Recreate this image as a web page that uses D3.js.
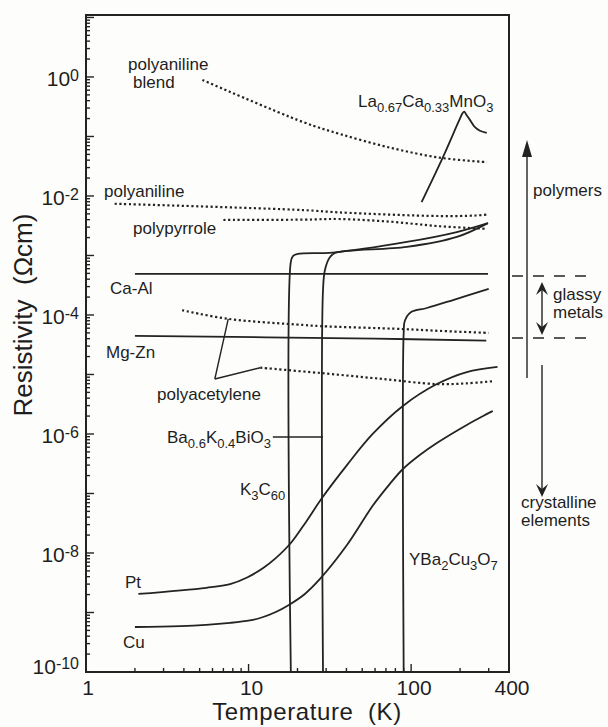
<!DOCTYPE html>
<html>
<head>
<meta charset="utf-8">
<script src="https://cdn.jsdelivr.net/npm/d3@7"></script>
<style>
  html, body { margin: 0; padding: 0; background: #fdfdfb; }
  svg { display: block; font-family: "Liberation Sans", Arial, Helvetica, sans-serif; }
</style>
</head>
<body>
<div id="chart"></div>
<script>
// values: [temperature (K), resistivity (ohm cm)]
const pt = [[2.1, 2.05e-9], [5.5, 2.6e-9], [7.7, 3.0e-9], [9.8, 3.87e-9], [12.3, 5.6e-9], [14.7, 8.2e-9],
  [18.2, 1.47e-8], [22.5, 3.3e-8], [28.3, 8.4e-8], [40.3, 3.0e-7], [58, 1.0e-6], [89, 2.96e-6], [144, 6.9e-6],
  [220, 1.1e-5], [340, 1.34e-5]];
const cu = [[2.0, 5.7e-10], [3.8, 5.9e-10], [7.7, 6.7e-10], [10.2, 7.35e-10], [12.3, 8.4e-10], [14.7, 1.02e-9],
  [17.7, 1.34e-9], [22.2, 2.05e-9], [27.5, 3.66e-9], [40.3, 1.36e-8], [58, 6.2e-8], [74, 1.45e-7], [89, 2.58e-7],
  [113, 4.44e-7], [144, 7.06e-7], [220, 1.42e-6], [318, 2.44e-6]];
const caAl = [[2, 4.9e-4], [297, 4.9e-4]];
const mgZn = [[2, 4.45e-5], [60, 4.0e-5], [290, 3.7e-5]];
const k3c60 = [[18.2, 1e-10], [18.2, 7.8e-4], [18.8, 9.8e-4], [20.1, 1.06e-3], [33, 1.12e-3], [94, 1.69e-3],
  [191, 2.48e-3], [297, 3.5e-3]];
const bkbo = [[28.7, 1e-10], [28.7, 2.6e-4], [29.5, 5.7e-4], [31.7, 9.4e-4], [34, 1.1e-3], [94, 1.39e-3],
  [191, 2.05e-3], [297, 3.5e-3]];
const ybco = [[90, 1e-10], [90, 5.0e-5], [91.5, 8e-5], [100, 1.12e-4], [125, 1.31e-4], [183, 1.8e-4], [300, 2.75e-4]];
const lcmo = [[116, 7.9e-3], [157, 0.045], [198, 0.19], [207, 0.245], [212, 0.262], [218, 0.235], [230, 0.19],
  [246, 0.145], [265, 0.125], [292, 0.115]];
const polyBlend = [[5.2, 0.89], [21.6, 0.175], [36.5, 0.11], [74, 0.065], [150, 0.044], [293, 0.037]];
const polyaniline = [[1.5, 7.4e-3], [21.6, 5.8e-3], [36, 5.3e-3], [150, 4.6e-3], [250, 4.7e-3], [300, 4.9e-3]];
const polypyrrole = [[7, 3.95e-3], [21.6, 4.0e-3], [36, 4.1e-3], [74, 3.7e-3], [150, 3.1e-3], [293, 2.8e-3]];
const polyacet1 = [[3.9, 1.2e-4], [7.5, 8.6e-5], [21.6, 6.8e-5], [27.5, 6.5e-5], [89, 5.8e-5], [150, 5.4e-5], [300, 5.0e-5]];
const polyacet2 = [[11.8, 1.3e-5], [27.5, 1.06e-5], [64, 8.5e-6], [144, 6.9e-6], [220, 7.1e-6], [318, 7.7e-6]];

const xTickLabels = [1, 10, 100, 400];
const yTickLabels = [1e0, 1e-2, 1e-4, 1e-6, 1e-8, 1e-10];

const series = [
  { data: pt }, { data: cu }, { data: caAl }, { data: mgZn }, { data: k3c60 }, { data: bkbo },
  { data: ybco }, { data: lcmo },
  { data: polyBlend, dotted: true }, { data: polyaniline, dotted: true }, { data: polypyrrole, dotted: true },
  { data: polyacet1, dotted: true }, { data: polyacet2, dotted: true }
];

const W = 608, H = 727;
const ink = '#232323';
const svg = d3.select('#chart').append('svg').attr('width', W).attr('height', H);

const x = d3.scaleLog().domain([1, 400]).range([86, 509]);
const y = d3.scaleLog().domain([1e-10, 11]).range([672, 15]);

const line = d3.line()
  .x(d => x(d[0]))
  .y(d => y(d[1]))
  .curve(d3.curveCatmullRom.alpha(0.5));

// curves
svg.append('g').selectAll('path').data(series).enter().append('path')
  .attr('d', d => line(d.data))
  .attr('fill', 'none')
  .attr('stroke', ink)
  .attr('stroke-width', d => d.dotted ? 2.2 : 1.8)
  .attr('stroke-dasharray', d => d.dotted ? '2.2,2.6' : null)
  .attr('stroke-linejoin', 'round');

// frame
const [x0, x1] = x.range();
const [y0, y1] = y.range();
svg.append('rect')
  .attr('x', x0).attr('y', y1).attr('width', x1 - x0).attr('height', y0 - y1)
  .attr('fill', 'none').attr('stroke', ink).attr('stroke-width', 2);

const isDecade = v => Math.abs(Math.log10(v) - Math.round(Math.log10(v))) < 1e-6;

// inner ticks, left
svg.append('g').selectAll('line').data(y.ticks(40).filter(v => v < 11)).enter().append('line')
  .attr('x1', x0).attr('x2', d => x0 + (isDecade(d) ? 8 : 4))
  .attr('y1', d => y(d)).attr('y2', d => y(d))
  .attr('stroke', ink).attr('stroke-width', 1.4);

// inner ticks, bottom
svg.append('g').selectAll('line').data(x.ticks(40).filter(v => v > 1 && v < 400)).enter().append('line')
  .attr('x1', d => x(d)).attr('x2', d => x(d))
  .attr('y1', y0).attr('y2', d => y0 - (isDecade(d) ? 8 : 4))
  .attr('stroke', ink).attr('stroke-width', 1.4);

// y tick labels 10^n
const yl = svg.append('g').attr('fill', '#1e1e1e').selectAll('text').data(yTickLabels).enter().append('text')
  .attr('x', 79)
  .attr('y', d => y(d) + (d === 1e-10 ? 2 : 9))
  .attr('text-anchor', 'end')
  .attr('font-size', 21);
yl.append('tspan').text('10');
yl.append('tspan').attr('dy', -5).attr('font-size', 16).text(d => Math.round(Math.log10(d)).toString());

// x tick labels
svg.append('g').attr('fill', '#1e1e1e').selectAll('text').data(xTickLabels).enter().append('text')
  .attr('x', d => x(d) + (d === 1 ? 2 : 3))
  .attr('y', 695)
  .attr('text-anchor', 'middle')
  .attr('font-size', 21)
  .text(d => d);

// axis titles
svg.append('text')
  .attr('x', 307).attr('y', 720)
  .attr('text-anchor', 'middle').attr('font-size', 24).attr('letter-spacing', 0.6)
  .attr('fill', '#1e1e1e')
  .attr('xml:space', 'preserve')
  .text('Temperature  (K)');

svg.append('text')
  .attr('transform', 'translate(32,315) rotate(-90)')
  .attr('text-anchor', 'middle').attr('font-size', 26)
  .attr('fill', '#1e1e1e')
  .attr('xml:space', 'preserve')
  .text('Resistivity  (Ωcm)');

// curve labels; parts flagged 1 are subscripts
const labels = [
  { parts: [['polyaniline', 0]], px: 128, py: 70 },
  { parts: [['blend', 0]], px: 133, py: 88 },
  { parts: [['polyaniline', 0]], px: 104, py: 197 },
  { parts: [['polypyrrole', 0]], px: 133, py: 234 },
  { parts: [['Ca-Al', 0]], px: 110, py: 294 },
  { parts: [['Mg-Zn', 0]], px: 106, py: 358 },
  { parts: [['polyacetylene', 0]], px: 157, py: 400 },
  { parts: [['Ba', 0], ['0.6', 1], ['K', 0], ['0.4', 1], ['BiO', 0], ['3', 1]], px: 167, py: 443 },
  { parts: [['K', 0], ['3', 1], ['C', 0], ['60', 1]], px: 240, py: 495 },
  { parts: [['Pt', 0]], px: 125, py: 588 },
  { parts: [['Cu', 0]], px: 123, py: 648 },
  { parts: [['YBa', 0], ['2', 1], ['Cu', 0], ['3', 1], ['O', 0], ['7', 1]], px: 409, py: 565 },
  { parts: [['La', 0], ['0.67', 1], ['Ca', 0], ['0.33', 1], ['MnO', 0], ['3', 1]], px: 358, py: 107 }
];

labels.forEach(l => {
  const t = svg.append('text').attr('x', l.px).attr('y', l.py).attr('font-size', 17).attr('fill', '#1e1e1e');
  let prevSub = 0;
  l.parts.forEach(([s, sub]) => {
    const ts = t.append('tspan').text(s);
    if (sub) ts.attr('font-size', 13);
    if (sub !== prevSub) ts.attr('dy', sub ? 5 : -5);
    prevSub = sub;
  });
});

// leader lines, in data units
const leaders = [
  [[6.2, 8.4e-6], [7.5, 8.6e-5]],
  [[6.2, 8.4e-6], [11.8, 1.3e-5]],
  [[14.1, 8.9e-7], [28.7, 8.9e-7]]
];
svg.append('g').selectAll('path').data(leaders).enter().append('path')
  .attr('d', d3.line().x(d => x(d[0])).y(d => y(d[1])))
  .attr('fill', 'none').attr('stroke', ink).attr('stroke-width', 1.4);

// right-hand ranges
const side = svg.append('g').attr('stroke', ink).attr('fill', 'none');
const glassyTop = 4.5e-4, glassyBot = 4.1e-5;
[glassyTop, glassyBot].forEach(v => {
  side.append('line').attr('x1', 512).attr('x2', 587).attr('y1', y(v)).attr('y2', y(v))
    .attr('stroke-width', 1.5).attr('stroke-dasharray', '11,10');
});

// polymers arrow
const polyTop = 0.087, polyBot = 8.7e-6;
side.append('line').attr('x1', 527).attr('x2', 527).attr('y1', y(polyBot)).attr('y2', y(polyTop) + 14)
  .attr('stroke-width', 1.4);
side.append('path')
  .attr('d', `M527,${y(polyTop)} L532,${y(polyTop) + 17} L522,${y(polyTop) + 17} Z`)
  .attr('fill', ink).attr('stroke', 'none');

// chevron head helper
function chevron(cx, tipY, dir) {
  return `M${cx},${tipY} L${cx + 6},${tipY - dir * 13} L${cx},${tipY - dir * 8} L${cx - 6},${tipY - dir * 13} Z`;
}

// glassy metals double arrow
const gA = 3.6e-4, gB = 4.6e-5;
side.append('line').attr('x1', 542).attr('x2', 542).attr('y1', y(gA) + 4).attr('y2', y(gB) - 4).attr('stroke-width', 1.4);
side.append('path').attr('d', chevron(542, y(gA), -1)).attr('fill', ink).attr('stroke', 'none');
side.append('path').attr('d', chevron(542, y(gB), 1)).attr('fill', ink).attr('stroke', 'none');

// crystalline arrow
const cA = 1.45e-5, cB = 8.7e-8;
side.append('line').attr('x1', 542).attr('x2', 542).attr('y1', y(cA)).attr('y2', y(cB) - 6).attr('stroke-width', 1.4);
side.append('path').attr('d', chevron(542, y(cB), 1)).attr('fill', ink).attr('stroke', 'none');

const sideText = [
  ['polymers', 533, 196],
  ['glassy', 553, 300],
  ['metals', 553, 318],
  ['crystalline', 521, 508],
  ['elements', 521, 526]
];
svg.append('g').attr('fill', '#1e1e1e').attr('font-size', 17).selectAll('text').data(sideText).enter().append('text')
  .attr('x', d => d[1]).attr('y', d => d[2]).text(d => d[0]);
</script>
</body>
</html>
